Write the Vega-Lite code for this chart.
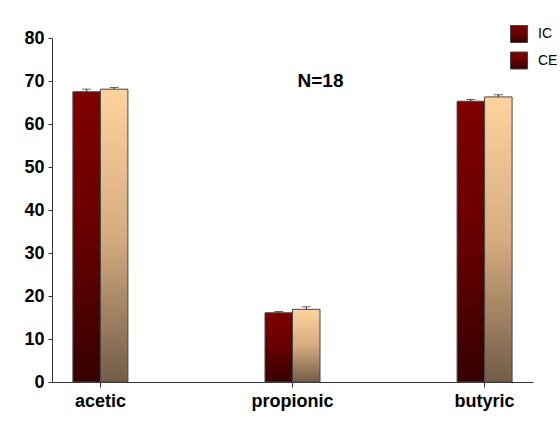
{
  "$schema": "https://vega.github.io/schema/vega-lite/v6.json",
  "autosize": {"type": "none"},
  "padding": {"left": 52, "top": 38, "right": 27, "bottom": 47},
  "width": 481,
  "height": 344,
  "background": "white",
  "config": {
    "view": {"stroke": null},
    "axis": {
      "labelFont": "Liberation Sans",
      "labelFontWeight": "bold",
      "labelFontSize": 18,
      "labelColor": "#000",
      "domainColor": "#333",
      "tickColor": "#333",
      "grid": false
    },
    "legend": {
      "labelFont": "Liberation Sans",
      "labelFontSize": 14,
      "labelColor": "#000"
    }
  },
  "data": {
    "values": [
      {"acid": "acetic", "group": "IC", "value": 67.5, "upper": 68.1},
      {"acid": "acetic", "group": "CE", "value": 68.1, "upper": 68.5},
      {"acid": "propionic", "group": "IC", "value": 16.1, "upper": 16.4},
      {"acid": "propionic", "group": "CE", "value": 16.9, "upper": 17.5},
      {"acid": "butyric", "group": "IC", "value": 65.3, "upper": 65.7},
      {"acid": "butyric", "group": "CE", "value": 66.3, "upper": 66.8}
    ]
  },
  "encoding": {
    "x": {
      "field": "acid",
      "type": "nominal",
      "sort": ["acetic", "propionic", "butyric"],
      "scale": {"domain": ["acetic", "propionic", "butyric"], "paddingInner": 0.714, "paddingOuter": 0.109},
      "axis": {"title": null, "labelAngle": 0, "tickSize": 5, "labelPadding": 5}
    },
    "y": {
      "field": "value",
      "type": "quantitative",
      "scale": {"domain": [0, 80], "nice": false},
      "axis": {"title": null, "values": [0, 10, 20, 30, 40, 50, 60, 70, 80], "tickSize": 4, "labelPadding": 4}
    }
  },
  "layer": [
    {
      "transform": [{"filter": "datum.group === 'IC'"}],
      "mark": {
        "type": "bar", "width": 27.5, "xOffset": -13.75, "strokeWidth": 1,
        "fill": {"gradient": "linear", "x1": 0, "y1": 0, "x2": 0, "y2": 1, "stops": [{"offset": 0, "color": "#7e0000"}, {"offset": 0.45, "color": "#6a0000"}, {"offset": 1, "color": "#360000"}]}
      },
      "encoding": {
        "stroke": {
          "field": "group",
          "type": "nominal",
          "scale": {"domain": ["IC", "CE"], "range": ["#444444", "#454545"]},
          "legend": {
            "title": null,
            "orient": "none",
            "legendX": 458,
            "legendY": -13,
            "symbolType": "square",
            "symbolSize": 289,
            "symbolStrokeWidth": 1,
            "symbolOpacity": 1,
            "labelOffset": 10,
            "rowPadding": 4.5,
            "encode": {
              "symbols": {
                "update": {
                  "fill": {
                    "condition": {"test": "datum.value === 'IC'", "value": {"gradient": "linear", "x1": 0, "y1": 0, "x2": 0, "y2": 1, "stops": [{"offset": 0, "color": "#800000"}, {"offset": 1, "color": "#3a0000"}]}},
                    "value": {"gradient": "linear", "x1": 0, "y1": 0, "x2": 0, "y2": 1, "stops": [{"offset": 0, "color": "#ffd29c"}, {"offset": 1, "color": "#7a6048"}]}
                  },
                  "stroke": {"value": "#333"}
                }
              }
            }
          }
        }
      }
    },
    {
      "transform": [{"filter": "datum.group === 'CE'"}],
      "mark": {
        "type": "bar", "width": 27.5, "xOffset": 13.75, "strokeWidth": 1,
        "fill": {"gradient": "linear", "x1": 0, "y1": 0, "x2": 0, "y2": 1, "stops": [{"offset": 0, "color": "#ffd29c"}, {"offset": 0.5, "color": "#d6ac80"}, {"offset": 1, "color": "#735c47"}]}
      },
      "encoding": {
        "stroke": {"field": "group", "type": "nominal"}
      }
    },
    {
      "transform": [{"filter": "datum.group === 'IC'"}],
      "mark": {"type": "rule", "color": "#222", "strokeWidth": 1, "xOffset": -13.75},
      "encoding": {"y2": {"field": "upper"}}
    },
    {
      "transform": [{"filter": "datum.group === 'CE'"}],
      "mark": {"type": "rule", "color": "#222", "strokeWidth": 1, "xOffset": 13.75},
      "encoding": {"y2": {"field": "upper"}}
    },
    {
      "transform": [{"filter": "datum.group === 'IC'"}],
      "mark": {"type": "tick", "color": "#222", "size": 9, "thickness": 1, "xOffset": -13.75},
      "encoding": {"y": {"field": "upper", "type": "quantitative"}}
    },
    {
      "transform": [{"filter": "datum.group === 'CE'"}],
      "mark": {"type": "tick", "color": "#222", "size": 9, "thickness": 1, "xOffset": 13.75},
      "encoding": {"y": {"field": "upper", "type": "quantitative"}}
    },
    {
      "transform": [{"filter": "datum.acid === 'propionic' && datum.group === 'IC'"}],
      "mark": {"type": "text", "text": "N=18", "font": "Liberation Sans", "fontWeight": "bold", "fontSize": 19, "color": "#000", "dx": 28, "baseline": "middle", "align": "center"},
      "encoding": {
        "y": {"datum": 70, "type": "quantitative"}
      }
    }
  ]
}
